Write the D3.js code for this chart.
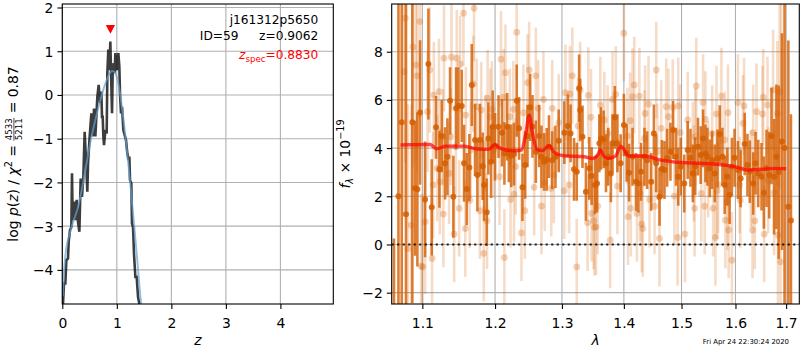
<!DOCTYPE html>
<html><head><meta charset="utf-8">
<script src="https://cdn.jsdelivr.net/npm/d3@7"></script>
<style>
html,body{margin:0;padding:0;background:#fff;}
svg{display:block;font-family:"DejaVu Sans",sans-serif;}
text{white-space:pre;}
</style></head><body>
<svg id="fig" width="800" height="350"></svg>
<script>
// ---------- redshift fit: log p(z) ----------
const zGrid = [0.000,0.013,0.031,0.056,0.074,0.105,0.117,0.141,0.166,0.178,0.190,0.215,0.239,0.264,0.288,0.313,0.337,0.361,0.386,0.410,0.435,0.459,0.472,0.502,0.533,0.557,0.582,0.606,0.643,0.667,0.692,0.716,0.728,0.741,0.753,0.765,0.790,0.814,0.826,0.844,0.863,0.881,0.900,0.912,0.924,0.942,0.961,0.973,0.991,1.010,1.028,1.046,1.058,1.077,1.095,1.120,1.144,1.168,1.193,1.217,1.230,1.242,1.266,1.278,1.297,1.315,1.340,1.364,1.389,1.413,1.460];
const logPz = [-4.85,-4.77,-4.31,-4.31,-3.78,-3.74,-3.36,-3.09,-3.02,-1.79,-2.86,-2.44,-2.86,-2.40,-2.90,-3.13,-1.91,-2.33,-1.87,-0.84,-1.49,-2.21,-1.56,-0.95,-0.42,-0.95,-0.31,-0.95,-0.04,0.23,-0.19,0.08,-0.50,-0.50,-0.95,-1.15,-0.80,-0.88,0.50,1.04,0.57,1.22,0.19,-0.42,0.50,0.73,0.50,0.96,0.65,0.57,0.96,0.65,0.04,-0.42,-0.27,-0.80,-0.92,-1.03,-1.34,-1.49,-1.41,-1.95,-2.02,-2.94,-3.02,-3.63,-4.16,-4.16,-4.62,-4.77,-4.95];
const zSmooth = [0.01,0.04,0.08,0.14,0.20,0.28,0.36,0.44,0.52,0.60,0.68,0.76,0.84,0.90,0.96,1.02,1.08,1.14,1.20,1.26,1.32,1.38,1.44,1.46];
const logPzSmooth = [-4.6,-3.9,-3.45,-3.15,-2.9,-2.6,-2.15,-1.6,-1.05,-0.6,-0.2,0.15,0.42,0.54,0.52,0.3,-0.15,-0.75,-1.45,-2.2,-3.0,-3.85,-4.7,-4.9];
const zSpec = 0.8830;
const zSpecMarkLevel = 1.5;
const zTicks = [0,1,2,3,4];
const logPTicks = [-4,-3,-2,-1,0,1,2];
const objName = "j161312p5650";
const objId = "ID=59";
const zBest = "z=0.9062";
const zSpecLabel = "=0.8830";

// ---------- G141 spectrum ----------
const darkWave = [1.0633,1.0690,1.0732,1.0787,1.0869,1.0904,1.0935,1.0970,1.1036,1.1080,1.1124,1.1182,1.1227,1.1258,1.1303,1.1335,1.1371,1.1416,1.1453,1.1485,1.1531,1.1563,1.1600,1.1637,1.1670,1.1716,1.1749,1.1786,1.1824,1.1843,1.1881,1.1904,1.1943,1.1966,
 1.2000,1.2050,1.2100,1.2135,1.2175,1.2200,1.2235,1.2275,1.2315,1.2350,1.2400,1.2440,1.2475,1.2515,1.2550,1.2600,1.2650,1.2685,1.2725,1.2765,1.2800,1.2850,1.2900,1.2950,1.3037,1.3091,1.3135,1.3189,1.3232,1.3270,1.3287,1.3324,1.3378,1.3432,1.3470,1.3524,
 1.3557,1.3595,1.3622,1.3665,1.3703,1.3741,1.3784,1.3811,1.3849,1.3892,1.3946,1.4000,1.4047,1.4087,1.4146,1.4204,1.4245,1.4291,1.4349,1.4395,1.4465,1.4512,1.4552,1.4610,1.4651,1.4697,1.4744,1.4802,1.4849,1.4901,1.4941,1.4988,1.5049,1.5111,1.5161,
 1.5205,1.5248,1.5298,1.5348,1.5391,1.5435,1.5472,1.5516,1.5559,1.5609,1.5659,1.5702,1.5752,1.5795,1.5845,1.5889,1.5932,1.5982,1.6047,1.6099,1.6178,1.6231,1.6277,1.6343,1.6389,1.6442,1.6507,1.6553,1.6606,1.6659,1.6705,1.6757,1.6803,1.6849,1.6915,1.6968,1.7045,1.7098];
const darkFlux = [-3.0,2.0,5.07,1.25,5.07,2.33,2.29,5.48,1.87,7.49,1.54,4.86,3.12,4.5,3.37,3.64,5.96,1.98,5.65,5.75,5.75,3.37,2.3,3.19,6.62,4.34,2.88,4.34,3.25,2.47,1.34,4.4,3.43,4.89,
 4.06,4.89,4.64,3.78,4.89,3.78,3.68,3.75,5.97,4.82,2.37,3.3,4.5,5.69,4.9,3.85,4.5,3.64,3.43,3.53,4.06,3.5,3.64,4.3,4.64,4.92,4.61,3.12,3.02,6.48,5.58,4.47,2.19,3.16,2.84,2.47,
 2.53,4.2,4.4,4.36,3.37,3.64,2.95,4.2,5.28,4.2,3.37,4.96,3.8,2.98,3.64,2.6,2.53,3.02,3.64,3.5,2.6,4.61,3.37,1.98,3.14,3.09,3.6,3.85,4.75,3.64,2.81,3.23,2.53,3.92,3.6,
 2.95,3.25,4.06,3.71,4.4,3.78,3.64,3.16,3.5,2.95,3.57,4.58,3.64,2.47,2.81,2.05,3.23,3.6,3.09,2.74,4.17,3.3,3.02,2.53,3.37,2.95,2.81,2.15,3.16,2.88,4.5,2.81,3.64,3.0,4.27,4.0,1.57,1.0];
const darkErr = [3.25,9.0,8.0,9.0,7.5,2.8,3.2,3.0,2.4,2.3,2.0,1.3,1.6,1.5,1.5,1.6,1.4,1.7,1.7,1.6,1.5,1.6,1.5,1.4,1.7,1.5,1.5,1.5,1.4,1.5,1.4,1.5,1.5,1.5,
 1.4,1.3,1.4,1.3,1.4,1.2,1.3,1.3,1.5,1.3,1.4,1.4,1.3,1.4,1.3,1.3,1.3,1.3,1.2,1.3,1.3,1.2,1.3,1.3,1.3,1.3,1.2,1.3,1.2,1.4,1.3,1.3,1.2,1.3,1.2,1.2,
 1.2,1.2,1.3,1.2,1.2,1.2,1.2,1.2,1.3,1.2,1.2,1.3,1.2,1.2,1.2,1.2,1.2,1.2,1.2,1.2,1.2,1.2,1.2,1.2,1.2,1.2,1.2,1.2,1.2,1.2,1.2,1.2,1.2,1.2,1.2,
 1.2,1.2,1.2,1.2,1.2,1.2,1.2,1.2,1.2,1.2,1.2,1.2,1.2,1.2,1.2,1.2,1.2,1.2,1.2,1.2,1.3,1.3,1.3,1.3,1.3,1.4,1.4,1.5,1.6,1.8,2.0,2.4,3.0,3.6,4.5,7.0,6.9,4.4];

const lightWave = [1.0762,1.0778,1.0810,1.0854,1.0877,1.0914,1.0932,1.0968,1.0985,1.1005,1.1037,1.1069,1.1097,1.1129,1.1143,1.1152,1.1198,1.1221,1.1234,1.1275,1.1280,1.1289,1.1358,1.1381,1.1390,1.1427,1.1450,1.1463,1.1496,1.1509,1.1555,1.1580,1.1587,1.1642,1.1656,1.1693,1.1702,1.1739,1.1784,1.1803,1.1839,1.1862,1.1885,1.1894,1.1931,1.1954,
 1.1986,1.2065,1.2085,1.2125,1.2135,1.2150,1.2215,1.2225,1.2265,1.2275,1.2300,1.2315,1.2385,1.2415,1.2435,1.2475,1.2500,1.2575,1.2600,1.2635,1.2685,1.2715,1.2735,1.2835,1.2850,1.2875,1.2950,1.3037,1.3054,1.3113,1.3124,1.3162,1.3232,1.3254,1.3286,1.3405,1.3416,1.3460,1.3470,1.3514,
 1.3503,1.3541,1.3568,1.3611,1.3676,1.3730,1.3773,1.3811,1.3865,1.3892,1.4000,1.4059,1.4070,1.4105,1.4117,1.4146,1.4175,1.4221,1.4262,1.4274,1.4303,1.4320,1.4349,1.4361,1.4419,1.4436,1.4524,1.4553,1.4570,1.4610,1.4640,1.4727,1.4768,1.4843,1.4872,1.4930,1.4941,1.4976,1.5062,1.5111,1.5205,1.5236,
 1.5223,1.5248,1.5267,1.5360,1.5391,1.5422,1.5435,1.5485,1.5559,1.5578,1.5621,1.5640,1.5653,1.5671,1.5733,1.5795,1.5808,1.5845,1.5858,1.5870,1.5932,1.6047,1.6080,1.6093,1.6145,1.6165,1.6296,1.6330,1.6343,1.6375,1.6408,1.6526,1.6540,1.6559,1.6625,1.6638,1.6737,1.6757,1.6822,1.6835,1.6868,1.6888,1.6900];
const lightFlux = [7.17,9.39,-0.17,0.8,8.2,7.45,7.0,9.25,-0.9,-0.93,0.94,5.51,7.24,-0.58,2.47,6.2,3.16,6.34,2.6,4.45,1.26,7.73,2.95,4.47,7.77,0.43,4.06,7.73,1.5,7.49,9.6,0.66,5.37,1.84,3.92,6.66,9.8,5.72,1.4,5.58,-0.37,4.2,0.98,6.07,5.3,5.61,
 3.92,2.81,7.69,6.11,-0.54,7.13,5.3,1.87,5.61,2.09,3.23,8.81,0.48,5.47,1.4,6.72,7.24,2.37,7.0,5.65,1.59,6.02,2.56,2.33,5.65,2.88,5.06,2.23,6.3,2.47,6.25,7.0,-0.93,4.92,6.41,0.9,6.19,5.28,1.29,0.71,
 0.98,0.73,1.59,5.79,5.17,4.61,0.18,6.02,6.23,2.42,8.77,4.5,1.15,5.14,1.5,6.14,6.62,1.29,6.16,2.12,0.84,0.66,4.4,5.44,5.83,1.87,1.59,7.24,3.85,0.25,4.82,5.72,5.3,5.69,2.01,0.29,5.75,4.64,0.43,5.17,3.92,1.5,
 2.95,4.47,6.58,2.12,5.89,1.59,5.19,3.12,4.61,1.5,0.29,5.42,2.23,2.47,6.16,4.34,1.01,1.77,5.47,0.6,-0.65,5.89,2.47,1.84,5.03,5.75,2.74,0.6,4.64,0.98,5.51,5.42,6.11,0.43,5.79,2.67,6.41,2.15,5.44,0.39,6.34,-0.72,10.1];
const lightErr = [6,6,6,5,5,4,4,4,3,3,3,2.5,2.6,2.5,2.2,2.2,2.2,2.2,2.2,2.0,2.2,2.2,2.1,2.0,2.2,2.0,2.0,2.0,2.0,2.0,2.2,2.0,2.0,2.0,2.0,2.0,2.2,2.0,2.0,2.0,2.0,2.0,2.0,2.0,2.0,2.0,
 2.0,2.0,2.0,2.0,2.0,2.0,2.0,2.0,2.0,2.0,2.0,2.0,2.0,2.0,2.0,2.0,2.0,2.0,2.0,2.0,2.0,2.0,2.0,2.0,2.0,2.0,2.0,2.0,2.0,2.0,2.0,2.0,2.0,2.0,2.0,2.0,2.0,2.0,2.0,2.0,
 2.0,2.0,2.0,2.0,2.0,2.0,2.0,2.0,2.0,2.0,2.0,2.0,2.0,2.0,2.0,2.0,2.0,2.0,2.0,2.0,2.0,2.0,2.0,2.0,2.0,2.0,2.0,2.0,2.0,2.0,2.0,2.0,2.0,2.0,2.0,2.0,2.0,2.0,2.0,2.0,2.0,2.0,
 2.0,2.0,2.0,2.0,2.0,2.0,2.0,2.0,2.0,2.0,2.0,2.0,2.0,2.0,2.0,2.0,2.0,2.0,2.0,2.0,2.0,2.0,2.0,2.0,2.0,2.0,2.0,2.0,2.0,2.0,2.0,2.0,2.0,2.0,2.0,2.2,2.5,2.6,3.0,3.5,4.0,5.0,6.0];

const modelWave = [1.0717,1.1106,1.1188,1.1312,1.1565,1.1748,1.1908,1.2000,1.2075,1.2275,1.2385,1.2450,1.2500,1.2550,1.2615,1.2700,1.2800,1.2885,1.3026,1.3350,1.3487,1.3568,1.3611,1.3666,1.3741,1.3865,1.3946,1.4000,1.4076,1.4348,1.4640,1.4988,1.5299,1.5702,1.5982,1.6245,1.6507,1.6770,1.7000];
const modelFlux = [4.13,4.15,3.97,4.08,4.08,3.96,3.95,4.15,3.99,3.89,3.92,4.61,5.37,4.61,3.95,3.89,4.10,3.81,3.68,3.64,3.57,3.71,3.92,3.67,3.57,3.68,4.08,3.95,3.67,3.67,3.50,3.40,3.37,3.32,3.23,3.09,3.12,3.16,3.14];
const waveTicks = [1.1,1.2,1.3,1.4,1.5,1.6,1.7];
const fluxTicks = [-2,0,2,4,6,8];
const stamp = "Fri Apr 24 22:30:24 2020";

// ---------- layout ----------
const svg = d3.select('#fig');
const FS = 13.9;
const GRID = '#b0b0b0';
const G141 = '#d55e00';

const L = {x0:62.3, x1:333.3, y0:4, y1:304};
const R = {x0:391.7, x1:799.3, y0:4, y1:304};
const xL = d3.scaleLinear().domain([0, 4.97]).range([L.x0, L.x1]);
const yL = d3.scaleLinear().domain([-4.78, 2.08]).range([L.y1, L.y0]);
const xR = d3.scaleLog().domain([1.0604, 1.727]).range([R.x0, R.x1]);
const yR = d3.scaleLinear().domain([-2.47, 9.98]).range([R.y1, R.y0]);

const defs = svg.append('defs');
[['clipL', L], ['clipR', R]].forEach(([id, b]) => {
  defs.append('clipPath').attr('id', id).append('rect')
    .attr('x', b.x0).attr('y', b.y0).attr('width', b.x1 - b.x0).attr('height', b.y1 - b.y0);
});

function drawGrid(xs, ys, xt, yt, b) {
  const g = svg.append('g');
  g.selectAll(null).data(xt).join('line')
    .attr('x1', d => xs(d)).attr('x2', d => xs(d)).attr('y1', b.y0).attr('y2', b.y1)
    .attr('stroke', GRID).attr('stroke-width', 1.1);
  g.selectAll(null).data(yt).join('line')
    .attr('y1', d => ys(d)).attr('y2', d => ys(d)).attr('x1', b.x0).attr('x2', b.x1)
    .attr('stroke', GRID).attr('stroke-width', 1.1);
}

function drawAxes(xs, ys, xt, yt, b, xf, yf) {
  const gx = svg.append('g').attr('transform', `translate(0,${b.y1})`)
    .call(d3.axisBottom(xs).tickValues(xt).tickFormat(xf).tickSizeInner(4.9).tickSizeOuter(0).tickPadding(3.5));
  gx.select('.domain').remove();
  gx.attr('font-size', FS).attr('font-family', '"DejaVu Sans",sans-serif');
  gx.selectAll('line').attr('stroke-width', 1.1);
  gx.selectAll('text').attr('y', 23.8).attr('dy', null).attr('fill', '#000');
  const gy = svg.append('g').attr('transform', `translate(${b.x0},0)`)
    .call(d3.axisLeft(ys).tickValues(yt).tickFormat(yf).tickSizeInner(4.9).tickSizeOuter(0).tickPadding(4));
  gy.select('.domain').remove();
  gy.attr('font-size', FS).attr('font-family', '"DejaVu Sans",sans-serif');
  gy.selectAll('line').attr('stroke-width', 1.1);
  gy.selectAll('text').attr('dy', '0.36em').attr('fill', '#000');
  svg.append('rect').attr('x', b.x0).attr('y', b.y0).attr('width', b.x1 - b.x0).attr('height', b.y1 - b.y0)
    .attr('fill', 'none').attr('stroke', '#000').attr('stroke-width', 1.1);
}

// ---------- left panel ----------
drawGrid(xL, yL, zTicks, logPTicks, L);
const pl = svg.append('g').attr('clip-path', 'url(#clipL)');
const pzLine = d3.line().x(d => xL(d[0])).y(d => yL(d[1]));
pl.append('path').datum(d3.zip(zGrid, logPz)).attr('d', pzLine)
  .attr('fill', 'none').attr('stroke', '#000').attr('stroke-opacity', 0.76).attr('stroke-width', 2.6)
  .attr('stroke-linejoin', 'miter');
pl.append('path').datum(d3.zip(zSmooth, logPzSmooth)).attr('d', d3.line().curve(d3.curveCatmullRom).x(d => xL(d[0])).y(d => yL(d[1])))
  .attr('fill', 'none').attr('stroke', '#5fa2d6').attr('stroke-opacity', 0.7).attr('stroke-width', 1.9);
// spectroscopic redshift marker
const mx = xL(zSpec), my = yL(zSpecMarkLevel);
svg.append('path').attr('d', `M${mx-4.6},${my-4.3}L${mx+4.6},${my-4.3}L${mx},${my+4.3}Z`).attr('fill', 'red');
drawAxes(xL, yL, zTicks, logPTicks, L, d3.format('d'), d3.format('d'));

const ann = svg.append('g').attr('font-size', 12.2).attr('text-anchor', 'end');
ann.append('text').attr('x', 318.3).attr('y', 24.3).text(objName);
ann.append('text').attr('x', 238.5).attr('y', 40.3).text(objId);
ann.append('text').attr('x', 318.3).attr('y', 40.3).text(zBest);
const zs = ann.append('text').attr('x', 318.3).attr('y', 59.3).attr('fill', 'red');
zs.append('tspan').attr('font-style', 'italic').text('z');
zs.append('tspan').attr('font-size', 8.6).attr('dy', 2.6).text('spec');
zs.append('tspan').attr('dy', -2.6).text(zSpecLabel);

// x label
svg.append('text').attr('x', (L.x0 + L.x1) / 2).attr('y', 345).attr('text-anchor', 'middle')
  .attr('font-size', FS).attr('font-style', 'italic').text('z');

// y label: log p(z) / chi^2 = a/b = 0.87
(function () {
  const outer = svg.append('g').attr('transform', `translate(17.5,${(L.y0 + L.y1) / 2}) rotate(-90)`);
  const g = outer.append('g').attr('font-size', FS);
  const t1 = g.append('text');
  t1.append('tspan').text('log ');
  t1.append('tspan').attr('font-style', 'italic').text('p');
  t1.append('tspan').text('(');
  t1.append('tspan').attr('font-style', 'italic').text('z');
  t1.append('tspan').text(') / ');
  t1.append('tspan').attr('font-style', 'italic').text('χ');
  t1.append('tspan').attr('font-size', 9.7).attr('dy', -5.6).text('2');
  t1.append('tspan').attr('dy', 5.6).text(' = ');
  const w1 = t1.node().getComputedTextLength();
  const fs = 8.6;
  const num = g.append('text').attr('font-size', fs).attr('text-anchor', 'middle').attr('y', -5.2).text('4533');
  const den = g.append('text').attr('font-size', fs).attr('text-anchor', 'middle').attr('y', 4.6).text('5211');
  const fw = Math.max(num.node().getComputedTextLength(), den.node().getComputedTextLength()) + 1;
  num.attr('x', w1 + fw / 2); den.attr('x', w1 + fw / 2);
  g.append('line').attr('x1', w1).attr('x2', w1 + fw).attr('y1', -3.6).attr('y2', -3.6)
    .attr('stroke', '#000').attr('stroke-width', 0.7);
  const t3 = g.append('text').attr('x', w1 + fw).text(' = 0.87');
  const total = w1 + fw + t3.node().getComputedTextLength();
  g.attr('transform', `translate(${-total / 2},0)`);
})();

// ---------- right panel ----------
drawGrid(xR, yR, waveTicks, fluxTicks, R);
const pr = svg.append('g').attr('clip-path', 'url(#clipR)');

function errorbars(waves, flux, err, barOpacity, dotOpacity, r) {
  const data = d3.zip(waves, flux, err);
  pr.append('g').selectAll('line').data(data).join('line')
    .attr('x1', d => xR(d[0])).attr('x2', d => xR(d[0]))
    .attr('y1', d => yR(d[1] - d[2])).attr('y2', d => yR(d[1] + d[2]))
    .attr('stroke', G141).attr('stroke-opacity', barOpacity).attr('stroke-width', 2.6);
  pr.append('g').selectAll('circle').data(data).join('circle')
    .attr('cx', d => xR(d[0])).attr('cy', d => yR(d[1])).attr('r', r)
    .attr('fill', G141).attr('fill-opacity', dotOpacity);
}
errorbars(lightWave, lightFlux, lightErr, 0.22, 0.28, 3.4);
errorbars(darkWave, darkFlux, darkErr, 0.8, 0.85, 3.0);

pr.append('path').datum(d3.zip(modelWave, modelFlux))
  .attr('d', d3.line().curve(d3.curveMonotoneX).x(d => xR(d[0])).y(d => yR(d[1])))
  .attr('fill', 'none').attr('stroke', 'red').attr('stroke-opacity', 0.7).attr('stroke-width', 3.4)
  .attr('stroke-linejoin', 'round');
pr.append('line').attr('x1', R.x0).attr('x2', R.x1).attr('y1', yR(0)).attr('y2', yR(0))
  .attr('stroke', '#000').attr('stroke-width', 2.1).attr('stroke-dasharray', '2.1,3.4').attr('stroke-opacity', 0.85);

drawAxes(xR, yR, waveTicks, fluxTicks, R, d3.format('.1f'), d3.format('d'));

svg.append('text').attr('x', (R.x0 + R.x1) / 2).attr('y', 345).attr('text-anchor', 'middle')
  .attr('font-size', FS).attr('font-style', 'italic').text('λ');

(function () {
  const outer = svg.append('g').attr('transform', `translate(350,${(R.y0 + R.y1) / 2}) rotate(-90)`);
  const t = outer.append('text').attr('font-size', FS).attr('text-anchor', 'middle');
  t.append('tspan').attr('font-style', 'italic').text('f');
  t.append('tspan').attr('font-style', 'italic').attr('font-size', 9.7).attr('dy', 2.8).text('λ');
  t.append('tspan').attr('dy', -2.8).text(' × 10');
  t.append('tspan').attr('font-size', 9.7).attr('dy', -5.8).text('−19');
})();

svg.append('text').attr('x', 789).attr('y', 344).attr('text-anchor', 'end')
  .attr('font-size', 6.9).text(stamp);
</script></body></html>
